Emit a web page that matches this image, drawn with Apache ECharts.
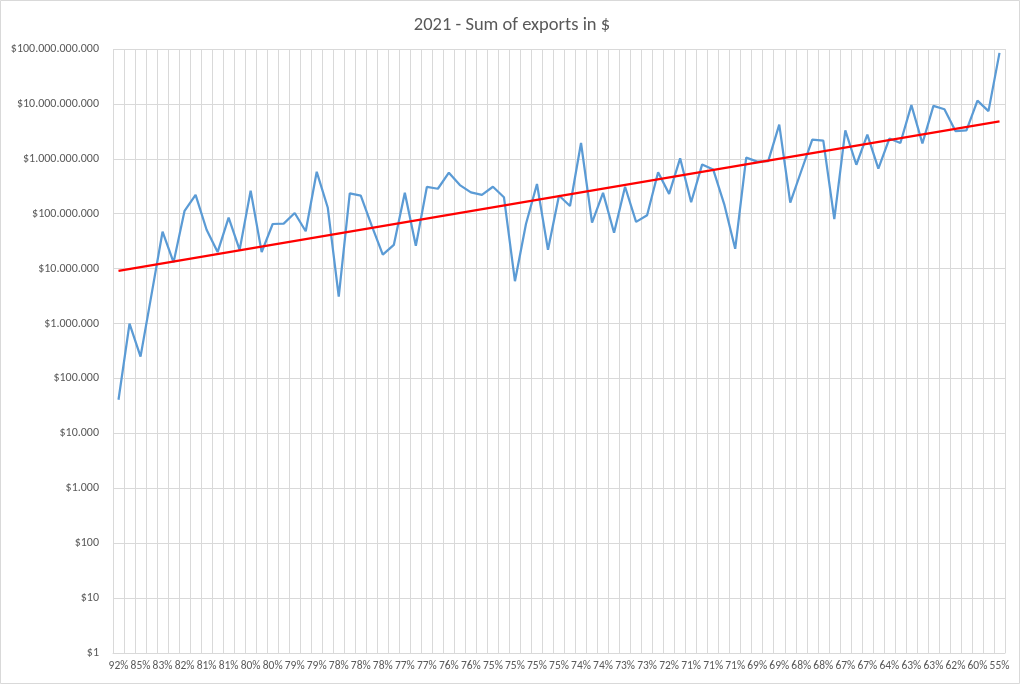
<!DOCTYPE html>
<html>
<head>
<meta charset="utf-8">
<title>2021 - Sum of exports in $</title>
<script src="https://cdn.jsdelivr.net/npm/echarts@6/dist/echarts.min.js"></script>
<style>
  html, body { margin: 0; padding: 0; background: #fff; }
  #main { width: 1024px; height: 685px; }
</style>
</head>
<body>
<div id="main"></div>
<script>
// share of something per country, sorted high -> low (every second one is labelled)
var categories = ['92%','86%','85%','84%','83%','82%','82%','81%','81%','81%',
	'81%','80%','80%','80%','80%','79%','79%','79%','79%','78%',
	'78%','78%','78%','78%','78%','77%','77%','77%','77%','76%',
	'76%','76%','76%','75%','75%','75%','75%','75%','75%','75%',
	'75%','74%','74%','74%','74%','73%','73%','73%','73%','72%',
	'72%','71%','71%','71%','71%','71%','71%','70%','69%','69%',
	'69%','68%','68%','68%','68%','67%','67%','67%','67%','65%',
	'64%','63%','63%','63%','63%','62%','62%','61%','60%','58%',
	'55%'];

// sum of exports in $
var exportsSum = [41000, 1000000, 250000, 3400000, 47000000, 13000000, 113000000, 220000000, 51000000, 20000000,
	85000000, 22000000, 263000000, 20000000, 65000000, 66000000, 103000000, 48000000, 580000000, 130000000,
	3100000, 234000000, 213000000, 60000000, 18000000, 27000000, 240000000, 26000000, 307000000, 285000000,
	560000000, 332000000, 245000000, 220000000, 310000000, 200000000, 5900000, 65000000, 347000000, 22000000,
	215000000, 138000000, 1940000000, 69000000, 240000000, 45000000, 310000000, 71000000, 94000000, 570000000,
	230000000, 1020000000, 162000000, 790000000, 640000000, 150000000, 23000000, 1050000000, 890000000, 910000000,
	4200000000, 160000000, 600000000, 2240000000, 2150000000, 80000000, 3300000000, 780000000, 2760000000, 665000000,
	2340000000, 1940000000, 9500000000, 1900000000, 9200000000, 8000000000, 3200000000, 3300000000, 11500000000, 7400000000,
	85000000000];

// exponential trendline, value at first and last category
var trendEnds = [9100000, 4800000000];

var gray = '#d9d9d9';
var txt = '#595959';
var font = "Carlito, Calibri, 'Liberation Sans', sans-serif";

function money(v) {
	var s = Math.round(v).toString().replace(/\B(?=(\d{3})+(?!\d))/g, '.');
	return '$' + s;
}

var trendData = [];
for (var i = 0; i < categories.length; i++) {
	if (i == 0) trendData.push(trendEnds[0]);
	else if (i == categories.length - 1) trendData.push(trendEnds[1]);
	else trendData.push(null);
}

var option = {
	backgroundColor: '#fff',
	animation: false,
	title: {
		text: '2021 - Sum of exports in $',
		left: 'center',
		top: 11,
		textStyle: { color: txt, fontSize: 18.5, fontWeight: 'normal', fontFamily: font }
	},
	graphic: [{
		type: 'rect',
		shape: { x: 0.5, y: 0.5, width: 1019, height: 683 },
		style: { fill: 'none', stroke: gray, lineWidth: 1 },
		silent: true
	}],
	grid: { left: 113, right: 19, top: 49, bottom: 32, containLabel: false },
	xAxis: {
		type: 'category',
		data: categories,
		boundaryGap: true,
		axisLine: { lineStyle: { color: gray } },
		axisTick: { show: false, interval: 0 },
		axisLabel: { interval: 1, color: txt, fontSize: 11.5, fontFamily: font, margin: 7 },
		splitLine: { show: true, interval: 0, lineStyle: { color: gray } }
	},
	yAxis: {
		type: 'log',
		logBase: 10,
		min: 1,
		max: 100000000000,
		interval: 1,
		axisLine: { show: false },
		axisTick: { show: false },
		axisLabel: { color: txt, fontSize: 12, fontFamily: font, margin: 14, formatter: money },
		splitLine: { show: true, lineStyle: { color: gray } }
	},
	series: [
		{
			name: 'Sum of exports',
			type: 'line',
			data: exportsSum,
			symbol: 'none',
			lineStyle: { color: '#5b9bd5', width: 2.25 },
			itemStyle: { color: '#5b9bd5' },
			z: 2
		},
		{
			name: 'Trend',
			type: 'line',
			data: trendData,
			connectNulls: true,
			symbol: 'none',
			lineStyle: { color: '#ff0000', width: 2.25 },
			itemStyle: { color: '#ff0000' },
			z: 3
		}
	]
};

var myChart = echarts.init(document.getElementById('main'));
myChart.setOption(option, true);
</script>
</body>
</html>
